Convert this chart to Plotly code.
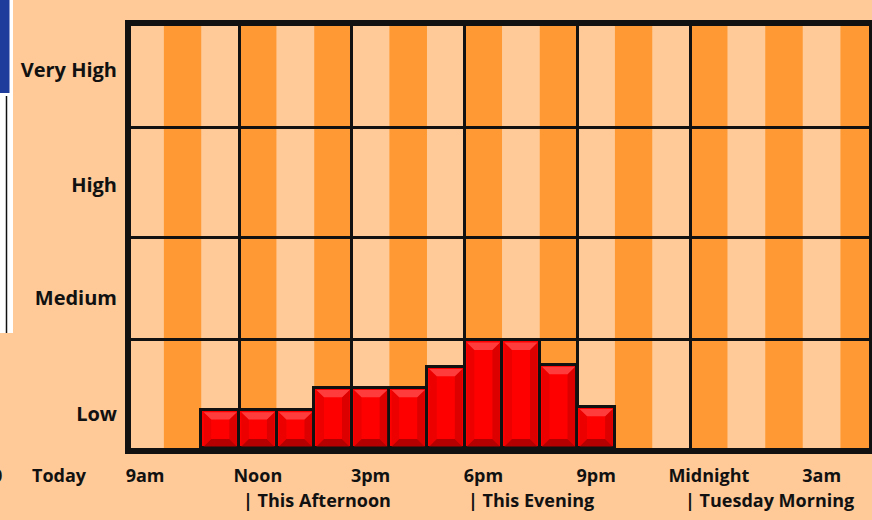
import plotly.graph_objects as go

# ---- data ----
hours = ["9am", "10am", "11am", "Noon", "1pm", "2pm", "3pm", "4pm", "5pm", "6pm",
         "7pm", "8pm", "9pm", "10pm", "11pm", "Midnight", "1am", "2am", "3am", "4am"]
hour_idx = list(range(1, len(hours) + 1))
# forecast level per hour (0 = none, 1 = Low, 2 = Medium, 3 = High, 4 = Very High)
levels = [0, 0, 0.36, 0.36, 0.36, 0.57, 0.57, 0.57, 0.77, 1.02,
          1.02, 0.79, 0.39, 0, 0, 0, 0, 0, 0, 0]
tick_hours = ["9am", "Noon", "3pm", "6pm", "9pm", "Midnight", "3am"]
period_labels = ["| This Afternoon", "| This Evening", "| Tuesday Morning"]
period_start_hours = ["Noon", "6pm", "Midnight"]
level_labels = ["Low", "Medium", "High", "Very High"]
level_label_pos = [0.32, 1.42, 2.49, 3.58]
band_edges = [1.03, 2.0, 3.04]

LIGHT = "#FFCA98"
DARK = "#FF9933"
FONT = "Open Sans"
YTXT = dict(family=FONT, size=20, color="#111111", weight="bold")
XTXT = dict(family=FONT, size=18, color="#111111", weight="bold")

X0, X1 = 0.625, 20.26   # visible part of the hour columns

fig = go.Figure()

# bars that have a value
bx = [x for x, v in zip(hour_idx, levels) if v > 0]
bv = [v for v in levels if v > 0]
fig.add_trace(go.Bar(x=bx, y=bv, width=1.0,
                     marker=dict(color="#FF0000", line=dict(color="#111111", width=3)),
                     hoverinfo="skip", showlegend=False))

# bevel faces
bw = 0.2   # horizontal bevel (data units)
bh = 0.07  # vertical bevel (data units)
ins = 0.06
top_x, top_y, bot_x, bot_y, l_x, l_y, r_x, r_y = [], [], [], [], [], [], [], []
for x, v in zip(bx, bv):
    x0, x1 = x - 0.5 + ins, x + 0.5 - ins
    y0, y1 = 0.015, v - 0.02
    h = min(bh, (y1 - y0) / 3)
    top_x += [x0, x1, x1 - bw, x0 + bw, x0, None]
    top_y += [y1, y1, y1 - h, y1 - h, y1, None]
    bot_x += [x0, x1, x1 - bw, x0 + bw, x0, None]
    bot_y += [y0, y0, y0 + h, y0 + h, y0, None]
    l_x += [x0, x0 + bw, x0 + bw, x0, x0, None]
    l_y += [y1, y1 - h, y0 + h, y0, y1, None]
    r_x += [x1, x1 - bw, x1 - bw, x1, x1, None]
    r_y += [y1, y1 - h, y0 + h, y0, y1, None]
for xs, ys, col in [(l_x, l_y, "#EC0000"), (r_x, r_y, "#DC0000"),
                    (top_x, top_y, "#FF3C3C"), (bot_x, bot_y, "#B40000")]:
    fig.add_trace(go.Scatter(x=xs, y=ys, fill="toself", fillcolor=col, mode="lines",
                             line=dict(width=0), hoverinfo="skip", showlegend=False))

# alternating hour stripes
shapes = []
for i, x in enumerate(hour_idx):
    shapes.append(dict(type="rect", xref="x", yref="paper", x0=max(x - 0.5, X0),
                       x1=min(x + 0.5, X1), y0=0, y1=1,
                       fillcolor=LIGHT if i % 2 == 0 else DARK,
                       line=dict(width=0), layer="below"))

# clipped neighbouring panel at far left
def px_x(p):
    return (p - 131) / 738.0

def px_y(p):
    return (448 - p) / 422.0

shapes += [
    dict(type="rect", xref="paper", yref="paper", x0=px_x(-2), x1=px_x(13),
         y0=px_y(333), y1=px_y(-2), fillcolor="white", line=dict(width=0), layer="above"),
    dict(type="rect", xref="paper", yref="paper", x0=px_x(-2), x1=px_x(9.5),
         y0=px_y(93), y1=px_y(-2), fillcolor="#1E3C9C", line=dict(width=0), layer="above"),
    dict(type="line", xref="paper", yref="paper", x0=px_x(6.5), x1=px_x(6.5),
         y0=px_y(333), y1=px_y(96), line=dict(color="#111111", width=1.5), layer="above"),
]

annotations = []
label_nudge = [0.55, 0.55, 0.3]   # horizontal text offset from the period's first hour edge
for lab, h, nd in zip(period_labels, period_start_hours, label_nudge):
    annotations.append(dict(x=hours.index(h) + nd, y=-0.123, xref="x", yref="paper",
                            text=lab, showarrow=False, xanchor="left", yanchor="middle",
                            font=XTXT))
annotations.append(dict(x=px_x(59), y=px_y(475), xref="paper", yref="paper", text="Today",
                        showarrow=False, xanchor="center", yanchor="middle", font=XTXT))
annotations.append(dict(x=px_x(4), y=px_y(475), xref="paper", yref="paper", text="0",
                        showarrow=False, xanchor="right", yanchor="middle", font=XTXT))

fig.update_layout(
    template="none",
    width=872, height=520, autosize=False,
    margin=dict(l=131, r=3, t=26, b=72, autoexpand=False),
    paper_bgcolor=LIGHT, plot_bgcolor=LIGHT,
    bargap=0, barmode="overlay",
    shapes=shapes, annotations=annotations,
    font=XTXT,
    xaxis=dict(range=[X0, X1], tickmode="array", automargin=False,
               tickvals=[hours.index(t) + 1 for t in tick_hours], ticktext=tick_hours,
               showgrid=False, zeroline=False, ticks="", ticklabelstandoff=6,
               showline=True, linecolor="#111111", linewidth=6, mirror=True,
               tickfont=XTXT,
               minor=dict(tickmode="array", tickvals=[3.5, 6.5, 9.5, 12.5, 15.5],
                          showgrid=True, gridcolor="#111111", gridwidth=2.5, ticks="")),
    yaxis=dict(range=[0, 4], tickmode="array", tickvals=level_label_pos, automargin=False,
               ticktext=level_labels, showgrid=False, zeroline=False, ticks="",
               ticklabelstandoff=4,
               showline=True, linecolor="#111111", linewidth=6, mirror=True,
               tickfont=YTXT,
               minor=dict(tickmode="array", tickvals=band_edges,
                          showgrid=True, gridcolor="#111111", gridwidth=2.5, ticks="")),
)

post = ("document.body.style.margin='0';document.body.style.overflow='hidden';"
        "Plotly.relayout('{plot_id}', {width: 872, height: 520});")
fig.write_html("out.html", post_script=post,
               config={"displayModeBar": False, "responsive": False})
